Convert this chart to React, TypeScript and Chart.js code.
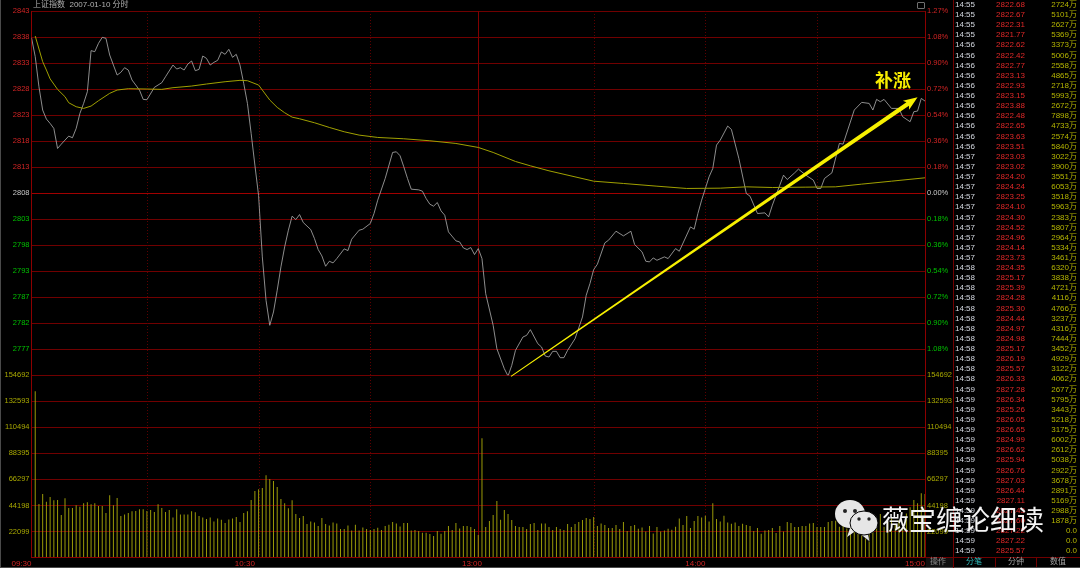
import React, { useEffect, useRef } from "react";
import { Chart, registerables } from "chart.js";

Chart.register(...registerables);

const priceMinutes = [0,1,2,3,4,5,6,7,8,9,10,11,12,13,14,15,16,17,18,19,20,21,22,23,24,25,26,27,29,30,31,33,35,36,38,39,40,41,42,43,44,45,46,47,48,49,50,51,52,53,54,55,56,57,58,59,60,61,62,63,64,65,66,67,68,69,70,71,72,73,75,76,77,78,79,80,81,82,84,85,86,88,89,91,92,93,95,97,98,99,100,101,102,104,105,106,107,108,109,110,111,112,114,115,116,117,118,119,120,121,122,124,125,127,128,129,130,132,133,134,136,137,138,139,140,141,142,143,144,146,148,149,150,151,152,154,155,157,159,161,162,164,165,166,167,168,170,171,173,174,177,178,179,180,182,183,184,185,187,188,190,192,193,195,197,198,199,201,202,203,205,206,208,210,211,212,213,215,217,218,221,223,225,226,227,228,229,231,233,234,236,237,238,239,240];
const priceValues = [2838.48,2834.75,2828.86,2824.29,2822.52,2821.67,2820.69,2816.76,2817.61,2818.4,2819.18,2818.86,2820.69,2823.63,2825.59,2827.88,2835.93,2835.73,2837.37,2838.54,2838.35,2835.08,2833.11,2831.15,2831.68,2832.59,2832.13,2830.17,2828.21,2826.38,2826.31,2828.73,2829.65,2830.82,2833.11,2832.33,2832.59,2832.13,2833.31,2833.9,2832,2832.26,2834.88,2834.42,2833.11,2833.64,2834.03,2835.67,2835.21,2836.19,2834.62,2835.21,2833.11,2829.52,2825.59,2819.71,2813.5,2807.5,2795.51,2787,2782.1,2784.72,2788.97,2793.55,2797.47,2800.74,2803.49,2802.83,2803.81,2802.24,2800.87,2799.11,2796.95,2795.7,2793.68,2794.66,2794.33,2795.18,2797.08,2796.75,2798.97,2800.74,2800.94,2802.05,2804.01,2806.63,2810.88,2815.98,2816.11,2815.33,2813.17,2810.88,2808.78,2808.65,2808.39,2806.95,2805.84,2805.45,2806.17,2804.53,2803.68,2800.41,2798.65,2798.45,2797.27,2796.95,2797.34,2795.97,2797.14,2795.18,2788.31,2782.1,2777.52,2773.6,2772.16,2774.25,2777.2,2779.81,2780.14,2781.25,2778.5,2777.85,2776.08,2775.89,2777,2777,2775.76,2775.76,2777.2,2779.48,2783.74,2787.99,2790.28,2793.02,2794.07,2798.26,2798.78,2800.54,2799.63,2800.54,2797.93,2796.49,2794.66,2794.53,2795.31,2794.85,2795.51,2795.18,2797.14,2796.62,2801.39,2800.94,2804.01,2806.63,2811.2,2812.84,2817.42,2818.4,2821.15,2820.49,2814.8,2807.93,2807.41,2804.01,2804.14,2803.36,2805.65,2809.57,2811.53,2810.68,2811.99,2812.71,2811.53,2810.55,2808.92,2808.92,2810.88,2811.99,2817.74,2817.61,2824.29,2825.79,2825.59,2824.29,2826.38,2825.92,2826.38,2824.61,2824.61,2822.98,2822,2823.96,2824.09,2826.57,2826.05];

const avgMinutes = [1,3,4,5,7,9,10,12,14,16,18,21,23,26,31,35,38,43,47,52,56,58,61,62,64,66,68,70,72,76,80,84,88,93,100,107,114,120,124,130,134,139,151,159,168,176,185,192,199,208,216,223,231,240];
const avgValues = [2838.8,2833.77,2832.13,2830.4,2828.34,2826.9,2825.72,2824.94,2824.61,2825.07,2826.12,2827.56,2828.21,2828.47,2828.41,2828.34,2828.67,2828.99,2829.39,2829.84,2830.11,2830.04,2829.19,2828.21,2826.25,2824.81,2823.76,2822.9,2822.58,2821.8,2820.88,2820.03,2819.38,2818.92,2818.66,2818.27,2817.74,2816.96,2815.98,2814.21,2813.36,2812.38,2810.35,2809.9,2809.37,2808.92,2808.98,2809.24,2809.11,2809.18,2809.24,2809.77,2810.35,2811.01];

// One volume value per minute, minute 1 to minute 240.
const volumeValues = [141070,45410,53930,47400,51370,48540,48820,36050,50240,42010,42010,44280,43140,45980,46830,45130,45980,43710,43710,37750,52790,44280,50520,35200,36610,37750,39170,39450,40870,40870,39450,40310,38600,45130,42010,38600,40310,34060,40870,36610,36610,36610,39170,38320,35200,34060,32640,34060,30650,33210,32070,29240,32360,33210,34340,30090,37750,39170,48820,56480,57900,59040,69820,66700,65000,59890,49670,45980,41720,48540,36900,33490,35200,28380,30650,29800,26680,33490,28380,27250,29800,28950,24130,24130,27250,22990,27820,22990,25550,24130,23270,24130,25260,23270,26680,27820,30090,28950,26400,29240,29240,22990,23270,22420,21000,21000,19870,18170,22420,20150,22420,26680,23270,29240,24690,26680,26680,25830,24130,19020,101330,25830,30940,36050,47970,32070,40310,36900,31790,26680,25830,25830,24130,28380,29240,23270,28950,28950,25830,23270,25830,24130,23270,28380,25830,28380,30090,31790,33490,32640,34340,26680,28950,27530,24980,24980,27530,24130,30090,22420,26680,27530,24410,25550,22140,26680,20440,25830,22140,22990,24410,23560,26110,33210,27530,35200,24980,30940,35200,34060,35480,30650,45980,32640,30650,35480,29800,28670,29800,26680,28670,27530,26680,22420,24980,20150,22990,23270,24980,20720,26680,22140,30090,29240,25830,25830,26680,26680,28950,29240,25830,25830,25830,30090,30940,31220,26110,27530,24690,26110,27530,28950,26110,27530,28950,26110,30370,36900,26110,30370,33210,28380,31790,26110,37470,42580,48820,45980,54500,53930];

const priceLabels = ["2843","2838","2833","2828","2823","2818","2813","2808","2803","2798","2793","2787","2782","2777",""];
const percentLabels = ["1.27%","1.08%","0.90%","0.72%","0.54%","0.36%","0.18%","0.00%","0.18%","0.36%","0.54%","0.72%","0.90%","1.08%",""];
const volumeLabels = ["154692","132593","110494","88395","66297","44198","22099",""];

const timeTickMinutes = [0, 60, 121, 181, 240];
const timeTickLabels = ["09:30", "10:30", "13:00", "14:00", "15:00"];
const dottedMinutes = [31, 61, 91, 151, 181, 211];
const solidMinutes = [120];

const arrowFrom = { minute: 128.8, price: 2772.1 };
const arrowTip = { minute: 238, price: 2826.8 };

const tickRows: [string, string, string][] = [
  ["14:55","2822.68","2724万"],["14:55","2822.67","5101万"],["14:55","2822.31","2627万"],["14:55","2821.77","5369万"],
  ["14:56","2822.62","3373万"],["14:56","2822.42","5006万"],["14:56","2822.77","2558万"],["14:56","2823.13","4865万"],
  ["14:56","2822.93","2718万"],["14:56","2823.15","5993万"],["14:56","2823.88","2672万"],["14:56","2822.48","7898万"],
  ["14:56","2822.65","4733万"],["14:56","2823.63","2574万"],["14:56","2823.51","5840万"],["14:57","2823.03","3022万"],
  ["14:57","2823.02","3900万"],["14:57","2824.20","3551万"],["14:57","2824.24","6053万"],["14:57","2823.25","3518万"],
  ["14:57","2824.10","5963万"],["14:57","2824.30","2383万"],["14:57","2824.52","5807万"],["14:57","2824.96","2964万"],
  ["14:57","2824.14","5334万"],["14:57","2823.73","3461万"],["14:58","2824.35","6320万"],["14:58","2825.17","3838万"],
  ["14:58","2825.39","4721万"],["14:58","2824.28","4116万"],["14:58","2825.30","4766万"],["14:58","2824.44","3237万"],
  ["14:58","2824.97","4316万"],["14:58","2824.98","7444万"],["14:58","2825.17","3452万"],["14:58","2826.19","4929万"],
  ["14:58","2825.57","3122万"],["14:58","2826.33","4062万"],["14:59","2827.28","2677万"],["14:59","2826.34","5795万"],
  ["14:59","2825.26","3443万"],["14:59","2826.05","5218万"],["14:59","2826.65","3175万"],["14:59","2824.99","6002万"],
  ["14:59","2826.62","2612万"],["14:59","2825.94","5038万"],["14:59","2826.76","2922万"],["14:59","2827.03","3678万"],
  ["14:59","2826.44","2891万"],["14:59","2827.11","5169万"],["14:59","2827.43","2988万"],["14:59","2827.60","1878万"],
  ["14:59","2827.22","0.0"],["14:59","2827.22","0.0"],["14:59","2825.57","0.0"],
];

const FONT = '"Liberation Sans", "Noto Sans CJK SC", sans-serif';
const RED = "#d02424";
const GREEN = "#00c000";
const OLIVE = "#a8a800";
const GRID = "#700000";
const GRID_STRONG = "#a00000";
const AXIS_FONT = 7.5;

const evenTicks = (count: number) => (scale: any) => {
  const step = (scale.max - scale.min) / (count - 1);
  scale.ticks = Array.from({ length: count }, (_, i) => ({ value: scale.max - i * step }));
};

const fixedWidth = (w: number) => (scale: any) => {
  scale.width = w;
};

const annotationsPlugin = {
  id: "annotations",
  beforeDatasetsDraw(chart: any) {
    const { ctx, chartArea, scales } = chart;
    ctx.save();
    ctx.lineWidth = 1;
    ctx.strokeStyle = "#5c0000";
    ctx.setLineDash([1, 2]);
    dottedMinutes.forEach((m) => {
      const x = Math.round(scales.x.getPixelForValue(m)) + 0.5;
      ctx.beginPath();
      ctx.moveTo(x, chartArea.top);
      ctx.lineTo(x, chartArea.bottom);
      ctx.stroke();
    });
    ctx.setLineDash([]);
    ctx.strokeStyle = "#800000";
    solidMinutes.forEach((m) => {
      const x = Math.round(scales.x.getPixelForValue(m)) + 0.5;
      ctx.beginPath();
      ctx.moveTo(x, chartArea.top);
      ctx.lineTo(x, chartArea.bottom);
      ctx.stroke();
    });
    ctx.restore();
  },
  afterDatasetsDraw(chart: any) {
    const { ctx, scales } = chart;
    const x0 = scales.x.getPixelForValue(arrowFrom.minute);
    const y0 = scales.price.getPixelForValue(arrowFrom.price);
    const x1 = scales.x.getPixelForValue(arrowTip.minute);
    const y1 = scales.price.getPixelForValue(arrowTip.price);
    const a = Math.atan2(y1 - y0, x1 - x0);
    const len = Math.hypot(x1 - x0, y1 - y0);
    ctx.save();
    ctx.translate(x0, y0);
    ctx.rotate(a);
    ctx.fillStyle = "#f7f000";
    ctx.beginPath();
    ctx.moveTo(0, -0.5);
    ctx.lineTo(len - 12, -2.2);
    ctx.lineTo(len - 14, -5.5);
    ctx.lineTo(len, 0);
    ctx.lineTo(len - 14, 5.5);
    ctx.lineTo(len - 12, 2.2);
    ctx.lineTo(0, 0.5);
    ctx.closePath();
    ctx.fill();
    ctx.restore();
  },
};

const footerCell = (text: string, center: number, color: string) => (
  <div
    style={{
      position: "absolute",
      left: center - 20,
      width: 40,
      top: 557,
      height: 10,
      lineHeight: "10px",
      fontSize: 8,
      textAlign: "center",
      color,
    }}
  >
    {text}
  </div>
);

export default function App() {
  const ref = useRef<HTMLCanvasElement>(null);

  useEffect(() => {
    const chart = new Chart(ref.current as HTMLCanvasElement, {
      type: "bar",
      data: {
        datasets: [
          {
            type: "line",
            label: "均价",
            data: avgMinutes.map((m, i) => ({ x: m, y: avgValues[i] })),
            xAxisID: "x",
            yAxisID: "price",
            borderColor: "#a0a000",
            borderWidth: 1,
            pointRadius: 0,
            tension: 0,
          },
          {
            type: "line",
            label: "上证指数",
            data: priceMinutes.map((m, i) => ({ x: m, y: priceValues[i] })),
            xAxisID: "x",
            yAxisID: "price",
            borderColor: "#b0b0b0",
            borderWidth: 0.8,
            pointRadius: 0,
            tension: 0,
          },
          {
            type: "bar",
            label: "成交量",
            data: volumeValues.map((v, i) => ({ x: i + 1, y: v })),
            xAxisID: "x",
            yAxisID: "volume",
            backgroundColor: "#9a9a08",
            barThickness: 1,
            inflateAmount: 0,
          },
        ] as any,
      },
      plugins: [annotationsPlugin],
      options: {
        animation: false,
        responsive: false,
        maintainAspectRatio: false,
        devicePixelRatio: 1,
        layout: { padding: { top: 11, left: 0, right: 0, bottom: 0 } },
        plugins: { legend: { display: false }, tooltip: { enabled: false }, title: { display: false } },
        scales: {
          x: {
            type: "linear",
            min: 0,
            max: 240,
            offset: false,
            grid: { display: false, drawTicks: false },
            border: { color: "#8c0000" },
            afterBuildTicks: (s: any) => {
              s.ticks = timeTickMinutes.map((value) => ({ value }));
            },
            afterFit: (s: any) => {
              s.height = 10.5;
            },
            ticks: {
              autoSkip: false,
              maxRotation: 0,
              align: "end",
              padding: 1,
              color: RED,
              font: { family: FONT, size: 8 },
              callback: (_v: any, i: number) => timeTickLabels[i],
            },
          },
          volume: {
            type: "linear",
            position: "left",
            stack: "left",
            stackWeight: 1,
            min: 0,
            max: 154692,
            afterBuildTicks: evenTicks(volumeLabels.length),
            afterFit: fixedWidth(31.5),
            border: { color: "#8c0000" },
            grid: {
              drawTicks: false,
              color: (c: any) => (c.index === 0 || c.index === 7 ? GRID_STRONG : GRID),
            },
            ticks: {
              autoSkip: false,
              padding: 2,
              font: { family: FONT, size: AXIS_FONT },
              color: OLIVE,
              callback: (_v: any, i: number) => volumeLabels[i],
            },
          },
          price: {
            type: "linear",
            position: "left",
            stack: "left",
            stackWeight: 2,
            min: 2772.3,
            max: 2843.7,
            afterBuildTicks: evenTicks(priceLabels.length),
            afterFit: fixedWidth(31.5),
            border: { color: "#8c0000" },
            grid: {
              drawTicks: false,
              color: (c: any) => (c.index === 7 ? GRID_STRONG : GRID),
            },
            ticks: {
              autoSkip: false,
              padding: 2,
              font: { family: FONT, size: AXIS_FONT },
              color: (c: any) => (c.index < 7 ? RED : c.index === 7 ? "#c8c8c8" : GREEN),
              callback: (_v: any, i: number) => priceLabels[i],
            },
          },
          percent: {
            type: "linear",
            position: "right",
            stack: "right",
            stackWeight: 2,
            min: -1.27,
            max: 1.27,
            afterBuildTicks: evenTicks(percentLabels.length),
            afterFit: fixedWidth(155),
            border: { color: "#8c0000" },
            grid: { display: false, drawTicks: false },
            ticks: {
              autoSkip: false,
              padding: 2,
              font: { family: FONT, size: AXIS_FONT },
              color: (c: any) => (c.index < 7 ? RED : c.index === 7 ? "#c8c8c8" : GREEN),
              callback: (_v: any, i: number) => percentLabels[i],
            },
          },
          volumeRight: {
            type: "linear",
            position: "right",
            stack: "right",
            stackWeight: 1,
            min: 0,
            max: 154692,
            afterBuildTicks: evenTicks(volumeLabels.length),
            afterFit: fixedWidth(155),
            border: { color: "#8c0000" },
            grid: { display: false, drawTicks: false },
            ticks: {
              autoSkip: false,
              padding: 2,
              font: { family: FONT, size: AXIS_FONT },
              color: OLIVE,
              callback: (_v: any, i: number) => volumeLabels[i],
            },
          },
        },
      } as any,
    });
    return () => chart.destroy();
  }, []);

  return (
    <div
      style={{
        position: "fixed",
        left: 0,
        top: 0,
        width: 1080,
        height: 568,
        background: "#000",
        overflow: "hidden",
        fontFamily: FONT,
      }}
    >
      <canvas ref={ref} width={1080} height={568} style={{ position: "absolute", left: 0, top: 0, display: "block" }} />

      {/* window edges */}
      <div style={{ position: "absolute", left: 0, top: 0, width: 1, height: 568, background: "#4a4a4a" }} />
      <div style={{ position: "absolute", left: 0, top: 567, width: 1080, height: 1, background: "#4a4a4a" }} />

      {/* title */}
      <div style={{ position: "absolute", left: 33, top: 0, height: 10, lineHeight: "10px", fontSize: 8, color: "#b0b0b0", whiteSpace: "pre" }}>
        上证指数  2007-01-10 分时
      </div>
      <div style={{ position: "absolute", left: 917, top: 2, width: 6, height: 5, border: "1px solid #707070", borderRadius: 1 }} />

      {/* time and sales table */}
      <div style={{ position: "absolute", left: 953, top: 0, width: 1, height: 568, background: "#700000" }} />
      {tickRows.map((row, i) => (
        <React.Fragment key={i}>
          <div style={{ position: "absolute", left: 955, top: i * 10.12, height: 10, lineHeight: "10px", fontSize: 8, color: "#d4d8e0" }}>{row[0]}</div>
          <div style={{ position: "absolute", right: 55, top: i * 10.12, height: 10, lineHeight: "10px", fontSize: 8, color: "#e02828" }}>{row[1]}</div>
          <div style={{ position: "absolute", right: 3, top: i * 10.12, height: 10, lineHeight: "10px", fontSize: 8, color: "#b4b400" }}>{row[2]}</div>
        </React.Fragment>
      ))}

      {/* footer */}
      <div style={{ position: "absolute", left: 925, top: 557, width: 155, height: 1, background: "#700000" }} />
      <div style={{ position: "absolute", left: 995, top: 557, width: 1, height: 10, background: "#700000" }} />
      <div style={{ position: "absolute", left: 1036, top: 557, width: 1, height: 10, background: "#700000" }} />
      <div style={{ position: "absolute", left: 926, top: 558, width: 27, height: 9, background: "#101010" }} />
      {footerCell("操作", 938, "#8a8a8a")}
      {footerCell("分笔", 974, "#30b8b8")}
      {footerCell("分钟", 1016, "#a0a0a0")}
      {footerCell("数值", 1058, "#a0a0a0")}

      {/* hand-written note */}
      <div
        style={{
          position: "absolute",
          left: 875,
          top: 68,
          height: 22,
          lineHeight: "22px",
          fontSize: 18,
          fontWeight: 700,
          color: "#f7ec00",
          fontFamily: '"Noto Sans CJK SC", sans-serif',
          whiteSpace: "pre",
        }}
      >
        补涨
      </div>

      {/* watermark */}
      <svg width="60" height="50" viewBox="0 0 60 50" style={{ position: "absolute", left: 832, top: 495 }}>
        <path d="M18 33 L15 42 L25 35 Z" fill="#e6e6e6" />
        <ellipse cx="18" cy="19" rx="15" ry="14" fill="#e6e6e6" />
        <circle cx="13" cy="16" r="2" fill="#222" />
        <circle cx="23" cy="16" r="2" fill="#222" />
        <path d="M36 38 L38 47 L28 39 Z" fill="#e6e6e6" stroke="#000" strokeWidth="0.6" />
        <ellipse cx="32" cy="28" rx="14" ry="12" fill="#e6e6e6" stroke="#000" strokeWidth="1" />
        <circle cx="27" cy="24" r="1.7" fill="#222" />
        <circle cx="37" cy="24" r="1.7" fill="#222" />
      </svg>
      <div
        style={{
          position: "absolute",
          left: 882,
          top: 503,
          height: 32,
          lineHeight: "32px",
          fontSize: 27,
          color: "#f4f4f4",
          fontFamily: '"Noto Sans CJK SC", sans-serif',
          whiteSpace: "pre",
          letterSpacing: 0,
        }}
      >
        薇宝缠论细读
      </div>
    </div>
  );
}
